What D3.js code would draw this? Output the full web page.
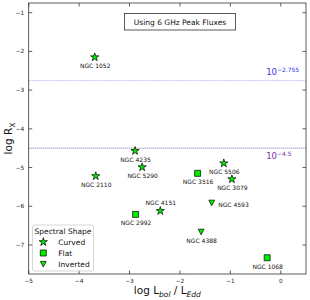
<!DOCTYPE html>
<html><head><meta charset="utf-8">
<script src="https://cdn.jsdelivr.net/npm/d3@7"></script>
<style>body{margin:0;background:#fff}svg{display:block;font-family:"DejaVu Sans",sans-serif}</style>
</head><body><svg id="c" width="310" height="300"></svg>
<script>
const names = ["NGC 1052","NGC 4235","NGC 5290","NGC 2110","NGC 3516","NGC 5506","NGC 3079","NGC 4593","NGC 4151","NGC 2992","NGC 4388","NGC 1068"];
const logLbolEdd = [-3.69,-2.89,-2.75,-3.67,-1.65,-1.13,-0.97,-1.37,-2.39,-2.88,-1.58,-0.27];
const logRx = [-2.15,-4.57,-4.99,-5.22,-5.15,-4.89,-5.30,-5.91,-6.12,-6.21,-6.66,-7.33];
const shapes = ["Curved","Curved","Curved","Curved","Flat","Curved","Curved","Inverted","Curved","Flat","Inverted","Flat"];
const labelSide = ["below","below","below","below","below","below","below","right","above","below","below","below"];
const xTicks = [-5,-4,-3,-2,-1,0];
const yTicks = [-1,-2,-3,-4,-5,-6,-7];
const refLines = [-2.755,-4.5];
const refLabels = ["-2.755","-4.5"];
const legendItems = ["Curved","Flat","Inverted"];

const svg = d3.select("#c");
const L=28.7,R=306,T=3,B=274;
const x = d3.scaleLinear().domain([-5,0.5]).range([L,R]);
const y = d3.scaleLinear().domain([-0.75,-7.75]).range([T,B]);

const invTri = {draw(ctx,size){const r=Math.sqrt(size)/2;ctx.moveTo(-r,-r*0.9);ctx.lineTo(r,-r*0.9);ctx.lineTo(0,r*1.05);ctx.closePath();}};
const symFor = s => s==="Curved"?d3.symbol(d3.symbolStar,21):s==="Flat"?d3.symbol(d3.symbolSquare,36):d3.symbol(invTri,34);

// ref lines
const refColors=["#9a9aff","#6b4c8f"];
const refText=["#3535e0","#7a2fb0"];
svg.selectAll(".ref").data(refLines).join("line")
 .attr("x1",L).attr("x2",R).attr("y1",d=>y(d)).attr("y2",d=>y(d))
 .attr("stroke",(d,i)=>refColors[i]).attr("stroke-width",(d,i)=>i?0.9:1)
 .attr("stroke-dasharray",(d,i)=>i?"1,1":"2,1").attr("opacity",(d,i)=>i?0.9:0.6);
refLines.forEach((v,i)=>{
  const t=svg.append("text").attr("x",x(-0.29)).attr("y",i?y(v)+11:y(v)-5.5)
   .attr("font-size",8.5).attr("fill",refText[i]);
  t.append("tspan").text("10");
  t.append("tspan").attr("dy",-3.5).attr("font-size",6).text(refLabels[i].replace("-","\u2212"));
});

// frame
const ax=svg.append("g");
ax.append("rect").attr("x",L).attr("y",T).attr("width",R-L).attr("height",B-T)
 .attr("fill","none").attr("stroke","#333").attr("stroke-width",0.8);
const tl=3.5;
xTicks.forEach(v=>{
  ax.append("line").attr("x1",x(v)).attr("x2",x(v)).attr("y1",B).attr("y2",B-tl).attr("stroke","#333").attr("stroke-width",0.8);
  ax.append("line").attr("x1",x(v)).attr("x2",x(v)).attr("y1",T).attr("y2",T+tl).attr("stroke","#333").attr("stroke-width",0.8);
  ax.append("text").attr("x",x(v)).attr("y",B+9).attr("text-anchor","middle").attr("font-size",5.8).attr("fill","#222")
   .text(d3.format("")(v).replace("-","\u2212"));
});
yTicks.forEach(v=>{
  ax.append("line").attr("x1",L).attr("x2",L+tl).attr("y1",y(v)).attr("y2",y(v)).attr("stroke","#333").attr("stroke-width",0.8);
  ax.append("line").attr("x1",R).attr("x2",R-tl).attr("y1",y(v)).attr("y2",y(v)).attr("stroke","#333").attr("stroke-width",0.8);
  ax.append("text").attr("x",L-4.5).attr("y",y(v)+2).attr("text-anchor","end").attr("font-size",5.8).attr("fill","#222")
   .text(String(v).replace("-","\u2212"));
});

// axis labels
const xl=svg.append("text").attr("x",(L+R)/2).attr("y",294).attr("text-anchor","middle").attr("font-size",10.5).attr("fill","#111");
xl.append("tspan").text("log L");
xl.append("tspan").attr("dy",2.5).attr("font-size",7.5).attr("font-style","italic").text("bol");
xl.append("tspan").attr("dy",-2.5).text(" / L");
xl.append("tspan").attr("dy",2.5).attr("font-size",7.5).attr("font-style","italic").text("Edd");
const yl=svg.append("text").attr("transform",`translate(12,${(T+B)/2}) rotate(-90)`).attr("text-anchor","middle").attr("font-size",10.5).attr("fill","#111");
yl.append("tspan").text("log R");
yl.append("tspan").attr("dy",2.5).attr("font-size",7.5).text("X");

// title box
svg.append("rect").attr("x",124.5).attr("y",13.5).attr("width",111).attr("height",16.5).attr("fill","#fff").attr("stroke","#333").attr("stroke-width",0.8);
svg.append("text").attr("x",180).attr("y",24.8).attr("text-anchor","middle").attr("font-size",7.5).attr("fill","#111").text("Using 6 GHz Peak Fluxes");

// points
const pts=names.map((n,i)=>({n,x:logLbolEdd[i],y:logRx[i],s:shapes[i],side:labelSide[i]}));
svg.selectAll(".pt").data(pts).join("path")
 .attr("transform",d=>`translate(${x(d.x)},${y(d.y)})`)
 .attr("d",d=>symFor(d.s)()).attr("fill","#00ee00").attr("stroke","#000").attr("stroke-width",0.7);
svg.selectAll(".lb").data(pts).join("text")
 .attr("x",d=>d.side==="right"?x(d.x)+6.5:x(d.x)+0.5)
 .attr("y",d=>d.side==="above"?y(d.y)-6.3:d.side==="right"?y(d.y)+4.6:y(d.y)+10.8)
 .attr("text-anchor",d=>d.side==="right"?"start":"middle")
 .attr("font-size",6).attr("fill","#111").text(d=>d.n);

// legend
const lg=svg.append("g");
lg.append("rect").attr("x",32.5).attr("y",225).attr("width",61).attr("height",46).attr("rx",2)
 .attr("fill","#fff").attr("fill-opacity",0.8).attr("stroke","#ccc").attr("stroke-width",0.8);
lg.append("text").attr("x",63).attr("y",233.8).attr("text-anchor","middle").attr("font-size",7.5).attr("fill","#111").text("Spectral Shape");
legendItems.forEach((s,i)=>{
  const yy=242+i*11;
  lg.append("path").attr("transform",`translate(43.3,${yy})`).attr("d",symFor(s)()).attr("fill","#00ee00").attr("stroke","#000").attr("stroke-width",0.7);
  lg.append("text").attr("x",58.3).attr("y",yy+2.7).attr("font-size",7.5).attr("fill","#111").text(s);
});
</script></body></html>
